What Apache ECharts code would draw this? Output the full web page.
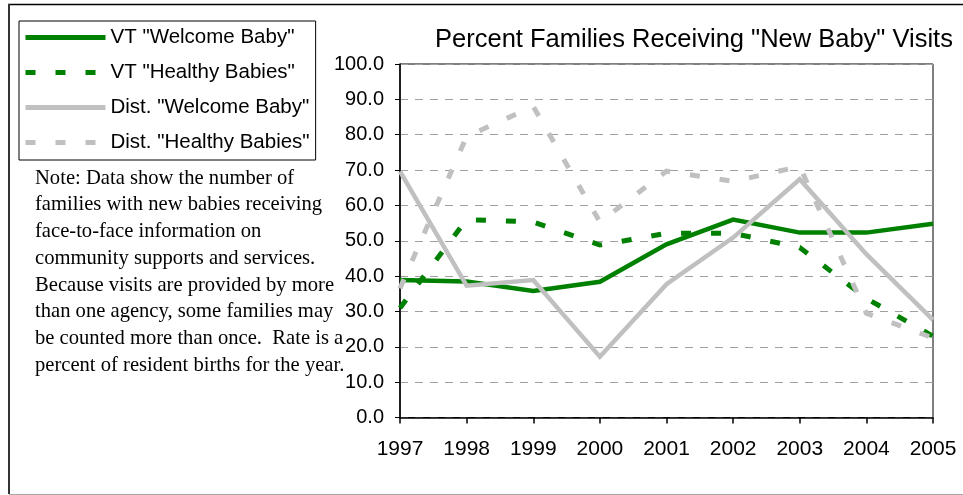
<!DOCTYPE html>
<html>
<head>
<meta charset="utf-8">
<script src="https://cdn.jsdelivr.net/npm/echarts@6/dist/echarts.min.js"></script>
<style>
  html, body { margin: 0; padding: 0; background: #fff; }
  #chart { width: 963px; height: 495px; }
</style>
</head>
<body>
<div id="chart"></div>
<script>
const years = ['1997', '1998', '1999', '2000', '2001', '2002', '2003', '2004', '2005'];
const vtWelcome = [38.9, 38.5, 35.8, 38.4, 49.0, 56.0, 52.3, 52.3, 54.8];
const vtHealthy = [31.0, 56.0, 55.3, 48.8, 52.1, 52.1, 48.1, 33.7, 23.0];
const distWelcome = [69.6, 37.3, 38.9, 17.2, 37.7, 50.9, 67.4, 46.2, 27.6];
const distHealthy = [36.5, 79.5, 88.0, 55.3, 69.7, 66.8, 71.0, 29.5, 22.5];
const seriesNames = ['VT "Welcome Baby"', 'VT "Healthy Babies"', 'Dist. "Welcome Baby"', 'Dist. "Healthy Babies"'];
const titleText = 'Percent Families Receiving "New Baby" Visits';
const noteText = 'Note: Data show the number of\nfamilies with new babies receiving\nface-to-face information on\ncommunity supports and services.\nBecause visits are provided by more\nthan one agency, some families may\nbe counted more than once.  Rate is a\npercent of resident births for the year.';

const SANS = '"Liberation Sans", Arial, sans-serif';
const SERIF = '"Liberation Serif", "Times New Roman", serif';
const GREEN = '#008000';
const GRAY = '#c0c0c0';

const chart = echarts.init(document.getElementById('chart'), null, { renderer: 'canvas' });

function mk(name, data, color, dashed) {
  return {
    name: name,
    type: 'line',
    data: data,
    symbol: 'none',
    showSymbol: false,
    smooth: false,
    animation: false,
    lineStyle: {
      color: color,
      width: dashed ? 5 : 4.5,
      type: dashed ? [10, 20] : 'solid',
      cap: 'butt',
      join: 'miter'
    },
    itemStyle: { color: color }
  };
}

chart.setOption({
  animation: false,
  backgroundColor: '#ffffff',
  grid: {
    left: 400, right: 30, top: 64, bottom: 77.5,
    show: true, borderColor: '#000', borderWidth: 1, backgroundColor: 'transparent'
  },
  legend: {
    orient: 'vertical',
    left: 19, top: 21,
    padding: [6, 6, 7, 4],
    itemGap: 14,
    itemWidth: 80,
    itemHeight: 20,
    borderColor: '#000',
    borderWidth: 1,
    backgroundColor: '#fff',
    selectedMode: false,
    data: seriesNames,
    itemStyle: { opacity: 0, borderWidth: 0 },
    lineStyle: { width: 5 },
    textStyle: { fontFamily: SANS, fontSize: 20.5, color: '#000', lineHeight: 20 }
  },
  xAxis: {
    type: 'category',
    data: years,
    boundaryGap: false,
    axisLine: { lineStyle: { color: '#000', width: 1.5 } },
    axisTick: { show: true, length: 6, alignWithLabel: true, lineStyle: { color: '#000', width: 1.5 } },
    axisLabel: { fontFamily: SANS, fontSize: 21, color: '#000', margin: 21 },
    splitLine: { show: false }
  },
  yAxis: {
    type: 'value',
    min: 0, max: 100, interval: 10,
    axisLine: { show: true, lineStyle: { color: '#000', width: 1.5 } },
    axisTick: { show: true, length: 5, lineStyle: { color: '#000', width: 1 } },
    axisLabel: {
      fontFamily: SANS, fontSize: 20, color: '#000', margin: 16,
      formatter: function (v) { return v.toFixed(1); }
    },
    splitLine: { show: true, lineStyle: { color: '#a0a0a0', width: 1, type: [8, 7] } }
  },
  series: [
    mk(seriesNames[0], vtWelcome, GREEN, false),
    mk(seriesNames[1], vtHealthy, GREEN, true),
    mk(seriesNames[2], distWelcome, GRAY, false),
    mk(seriesNames[3], distHealthy, GRAY, true)
  ],
  graphic: [
    { type: 'line', shape: { x1: 8, y1: 4.5, x2: 963, y2: 4.5 }, style: { stroke: '#000', lineWidth: 1.5 }, silent: true },
    { type: 'line', shape: { x1: 9, y1: 4, x2: 9, y2: 494 }, style: { stroke: '#333', lineWidth: 2 }, silent: true },
    { type: 'line', shape: { x1: 9, y1: 494.5, x2: 963, y2: 494.5 }, style: { stroke: '#a8a8a8', lineWidth: 1 }, silent: true },
    {
      type: 'text', x: 694, y: 27, silent: true,
      style: { text: titleText, fontFamily: SANS, fontSize: 25.5, fill: '#000', align: 'center', verticalAlign: 'top' }
    },
    {
      type: 'text', x: 35, y: 165, silent: true, z: 10,
      style: { text: noteText, fontFamily: SERIF, fontSize: 20.6, lineHeight: 26.7, fill: '#000', verticalAlign: 'top' }
    }
  ]
});
</script>
</body>
</html>
